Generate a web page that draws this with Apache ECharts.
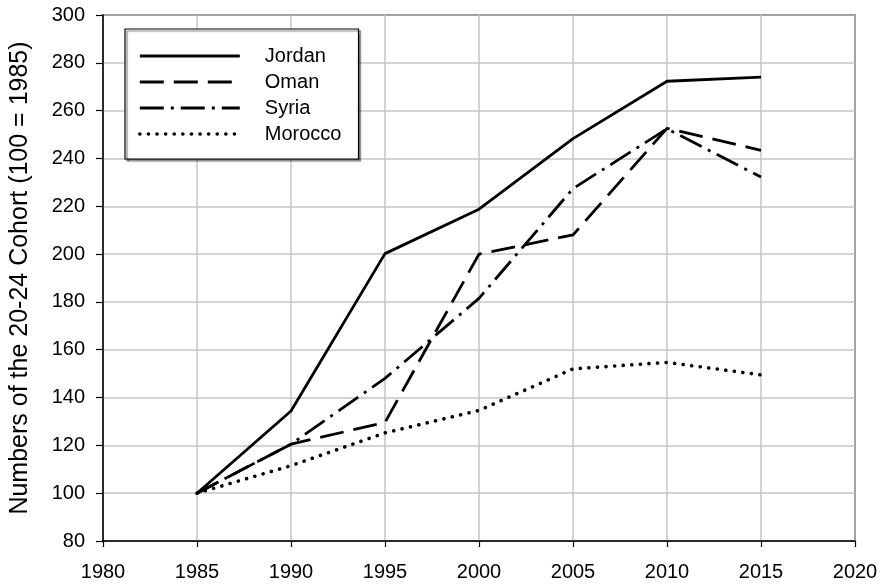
<!DOCTYPE html>
<html>
<head>
<meta charset="utf-8">
<script src="https://cdn.jsdelivr.net/npm/echarts@6/dist/echarts.min.js"></script>
<style>
html,body{margin:0;padding:0;background:#fff;}
#c{width:881px;height:586px;}
</style>
</head>
<body>
<div id="c"></div>
<script>
var years = [1985, 1990, 1995, 2000, 2005, 2010, 2015];
var jordan = [100, 134.4, 200.2, 218.8, 248.3, 272.3, 274.0];
var oman = [100, 120.5, 129.6, 200.0, 208.0, 252.6, 243.4];
var syria = [100, 120.5, 148.0, 181.5, 227.4, 252.4, 232.2];
var morocco = [100, 111.5, 125.2, 134.6, 152.0, 154.7, 149.5];
var names = ['Jordan', 'Oman', 'Syria', 'Morocco'];
var xTicks = [1980, 2020, 5];
var yTicks = [80, 300, 20];

function pairs(vals){ return years.map(function(y,i){ return [y, vals[i]]; }); }

var font = 'Arial, "Liberation Sans", sans-serif';
var styles = [
  {type: 'solid', width: 2.8, cap: 'butt'},
  {type: [24, 10], width: 2.8, cap: 'butt'},
  {type: [24, 7, 3, 7], width: 2.8, cap: 'butt'},
  {type: [0.1, 8.5], width: 3.6, cap: 'round'}
];
var vals = [jordan, oman, syria, morocco];
var series = names.map(function(n, i){
  return {
    name: n, type: 'line', data: pairs(vals[i]), symbol: 'none',
    lineStyle: {color: '#000', width: styles[i].width, type: styles[i].type, cap: styles[i].cap},
    itemStyle: {color: '#000'}
  };
});
var legendData = names.map(function(n, i){
  return {
    name: n,
    itemStyle: {color: 'rgba(0,0,0,0)', borderWidth: 0, opacity: 0},
    lineStyle: {color: '#000', width: styles[i].width, type: styles[i].type, cap: styles[i].cap}
  };
});
var chart = echarts.init(document.getElementById('c'));
chart.setOption({
  animation: false,
  backgroundColor: '#fff',
  grid: {left: 103, right: 26, top: 15, bottom: 45, show: true, borderColor: '#000', borderWidth: 1.5, backgroundColor: 'transparent'},
  xAxis: {
    type: 'value', min: xTicks[0], max: xTicks[1], interval: xTicks[2],
    axisLine: {lineStyle: {color: '#000', width: 1.5}},
    axisTick: {show: true, length: 6, lineStyle: {color: '#000', width: 1.2}},
    axisLabel: {color: '#000', fontSize: 20, fontFamily: font, margin: 21, formatter: function(v){ return String(v); }},
    splitLine: {show: true, lineStyle: {color: '#c4c4c4', width: 1.5}}
  },
  yAxis: {
    type: 'value', min: yTicks[0], max: yTicks[1], interval: yTicks[2],
    name: 'Numbers of the 20-24 Cohort (100 = 1985)',
    nameLocation: 'middle', nameGap: 70,
    nameTextStyle: {color: '#000', fontSize: 25, fontFamily: font},
    axisLine: {lineStyle: {color: '#000', width: 1.5}},
    axisTick: {show: true, length: 7, lineStyle: {color: '#000', width: 1.2}},
    axisLabel: {color: '#000', fontSize: 20, fontFamily: font, margin: 18},
    splitLine: {show: true, lineStyle: {color: '#c4c4c4', width: 1.5}}
  },
  legend: {
    orient: 'vertical', left: 125, top: 29,
    data: legendData,
    itemWidth: 100, itemHeight: 20, itemGap: 6,
    padding: [17, 17, 15, 13],
    borderColor: '#000', borderWidth: 1.2, backgroundColor: '#fff',
    shadowColor: 'rgba(0,0,0,0.5)', shadowOffsetX: 2, shadowOffsetY: 2, shadowBlur: 1,
    itemStyle: {color: 'rgba(0,0,0,0)', borderWidth: 0, opacity: 0},
    textStyle: {color: '#000', fontSize: 20, fontFamily: font, padding: [0, 0, 0, 20]}
  },
  series: series
});
</script>
</body>
</html>
